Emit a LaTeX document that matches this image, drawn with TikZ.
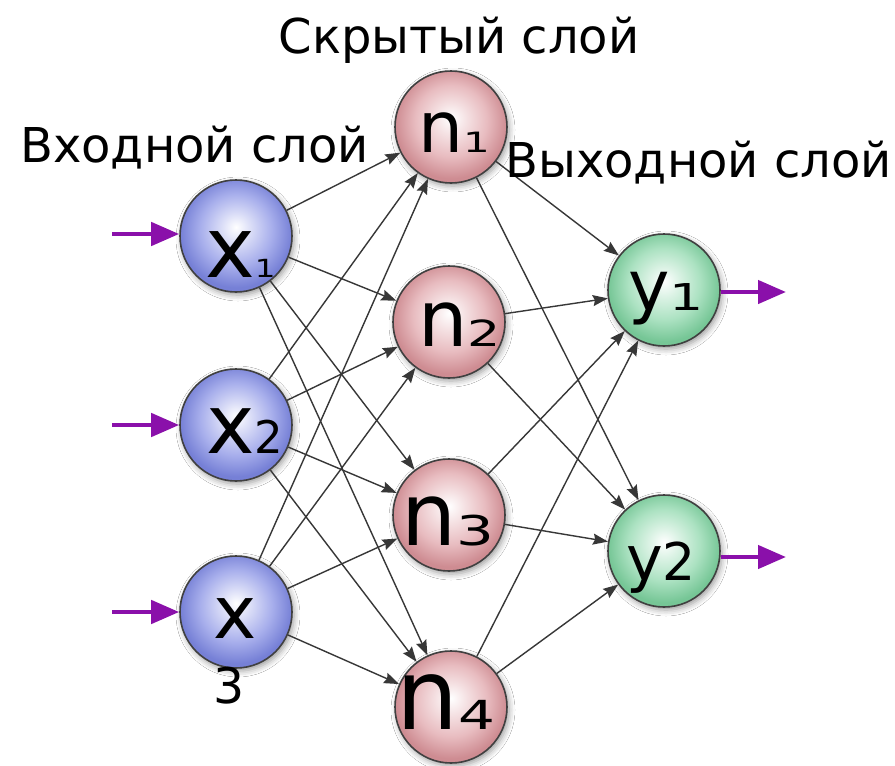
\documentclass[tikz,border=0pt]{standalone}
\usepackage{fontspec}
\setmainfont{DejaVu Sans}
\usetikzlibrary{arrows.meta,shadows.blur}

\definecolor{xout}{RGB}{118,128,214}
\definecolor{xmid}{RGB}{168,175,236}
\definecolor{nout}{RGB}{206,140,146}
\definecolor{nmid}{RGB}{232,188,192}
\definecolor{yout}{RGB}{118,198,150}
\definecolor{ymid}{RGB}{172,226,194}
\definecolor{arrowpurple}{RGB}{138,16,170}
\definecolor{linkgray}{RGB}{55,55,55}

\pgfdeclareradialshading{xshade}{\pgfpoint{0bp}{4bp}}{color(0bp)=(white);color(7bp)=(white!55!xmid);color(16bp)=(xmid);color(25bp)=(xout);color(50bp)=(xout)}
\pgfdeclareradialshading{nshade}{\pgfpoint{0bp}{4bp}}{color(0bp)=(white);color(7bp)=(white!55!nmid);color(16bp)=(nmid);color(25bp)=(nout);color(50bp)=(nout)}
\pgfdeclareradialshading{yshade}{\pgfpoint{0bp}{4bp}}{color(0bp)=(white);color(7bp)=(white!55!ymid);color(16bp)=(ymid);color(25bp)=(yout);color(50bp)=(yout)}

\newcommand{\fs}[1]{\fontsize{#1}{#1}\selectfont}
\newcommand{\wide}[2]{\scalebox{#1}[1]{#2}}

\tikzset{
  ball/.style={circle, draw=black!75, line width=1.6pt, minimum size=112pt, inner sep=0pt,
    blur shadow={shadow xshift=2pt, shadow yshift=-3pt, shadow blur radius=6pt, shadow opacity=40}},
  xball/.style={ball, shading=xshade},
  nball/.style={ball, shading=nshade},
  yball/.style={ball, shading=yshade},
  lbl/.style={anchor=base west, inner sep=0pt, text=black},
  title/.style={inner sep=0pt, text=black, font=\fs{48}},
  link/.style={draw=linkgray, line width=1.4pt, -{Stealth[length=15pt,width=11pt,inset=2pt]}},
  ioarrow/.style={draw=arrowpurple, line width=4.5pt, -{Triangle[length=28pt,width=23pt]}},
}

\begin{document}
\begin{tikzpicture}[x=1pt,y=-1pt]
\useasboundingbox (0,0) rectangle (895,766);
\fill[white] (0,0) rectangle (895,766);

% neurons
\node[xball] (x1) at (236,236) {};
\node[xball] (x2) at (236,425) {};
\node[xball] (x3) at (236,612) {};
\node[nball] (n1) at (451,127) {};
\node[nball] (n2) at (449,322) {};
\node[nball] (n3) at (449,515) {};
\node[nball] (n4) at (451,707) {};
\node[yball] (y1) at (664,290) {};
\node[yball] (y2) at (664,551) {};

% connections
\foreach \s in {x1,x2,x3}{
  \foreach \t in {n1,n2,n3,n4}{
    \draw[link] (\s) -- (\t);
  }
}
\foreach \s in {n1,n2,n3,n4}{
  \foreach \t in {y1,y2}{
    \draw[link] (\s) -- (\t);
  }
}

% input / output arrows
\coordinate (i1) at (112,234);
\coordinate (i2) at (112,425);
\coordinate (i3) at (112,612);
\coordinate (o1) at (786,292);
\coordinate (o2) at (786,557);
\draw[ioarrow] (i1) -- (i1 -| x1.west);
\draw[ioarrow] (i2) -- (x2);
\draw[ioarrow] (i3) -- (x3);
\draw[ioarrow] (o1 -| y1.east) -- (o1);
\draw[ioarrow] (o2 -| y2.east) -- (o2);

% neuron labels
\node[lbl] (x1t) at (205,277) {\fs{84}x\fs{25}\wide{1.3}{1}};
\node[lbl] (x2t) at (206,453) {\fs{82}x\fs{45}2};
\node[lbl] (x3t) at (213,638) {\fs{73}x};
\node[lbl] (x3s) at (213,703) {\fs{49}3};
\node[lbl] (n1t) at (418,152) {\fs{71}n\fs{28}\wide{1.5}{1}};
\node[lbl] (n2t) at (418,346) {\fs{78}n\fs{36}\wide{1.45}{2}};
\node[lbl] (n3t) at (401,545) {\fs{87}n\fs{41}\wide{1.45}{3}};
\node[lbl] (n4t) at (396,729) {\fs{98}n\fs{40}\wide{1.45}{4}};
\node[lbl] (y1t) at (628,310) {\fs{70}y\fs{37}\wide{1.45}{1}};
\node[lbl] (y2t) at (626,580) {\fs{62}y\fs{52}2};

% layer titles
\node[title, anchor=base] (th) at (459,53) {Скрытый слой};
\node[title, anchor=base west] (ti) at (20,162) {Входной слой};
\node[title, anchor=base west] (to) at (505,177) {Выходной слой};
\end{tikzpicture}
\end{document}
